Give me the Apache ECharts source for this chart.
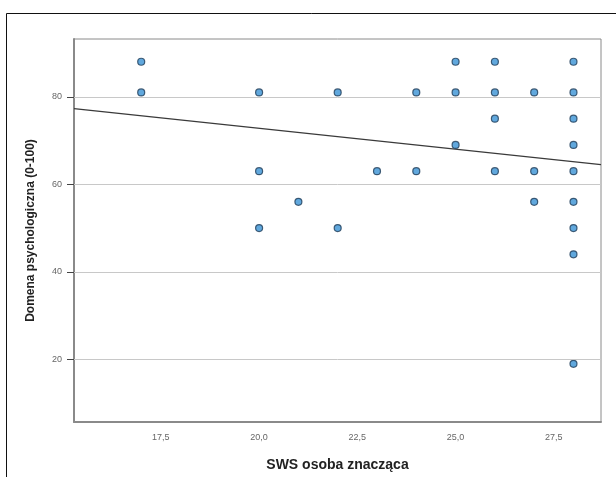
<!DOCTYPE html>
<html>
<head>
<meta charset="utf-8">
<script src="https://cdn.jsdelivr.net/npm/echarts@6/dist/echarts.min.js"></script>
<style>
html,body{margin:0;padding:0;background:#fff;}
#chart{width:616px;height:477px;}
</style>
</head>
<body>
<div id="chart"></div>
<script>
// SWS osoba znacząca (x) vs Domena psychologiczna (y)
var swsValues = [17, 17, 20, 20, 20, 21, 22, 22, 23, 24, 24, 25, 25, 25, 26, 26, 26, 26, 27, 27, 27, 28, 28, 28, 28, 28, 28, 28, 28, 28];
var domenaValues = [88, 81, 81, 63, 50, 56, 81, 50, 63, 81, 63, 88, 81, 69, 88, 81, 75, 63, 81, 63, 56, 88, 81, 75, 69, 63, 56, 50, 44, 19];
var fitX = [15.29, 28.7];
var fitY = [77.3, 64.5];
var xTicks = [17.5, 20, 22.5, 25, 27.5];
var yTicks = [20, 40, 60, 80];

var points = swsValues.map(function (v, i) { return [v, domenaValues[i]]; });
var fitLine = fitX.map(function (v, i) { return [v, fitY[i]]; });

var chart = echarts.init(document.getElementById('chart'), null, {renderer: 'canvas'});
chart.setOption({
  animation: false,
  backgroundColor: '#ffffff',
  textStyle: {fontFamily: 'Liberation Sans, Arial, sans-serif'},
  graphic: [{
    type: 'rect',
    shape: {x: 6.5, y: 13.5, width: 700, height: 600},
    style: {fill: 'none', stroke: '#111', lineWidth: 1},
    silent: true
  }],
  grid: {
    left: 74, right: 15, top: 39, bottom: 53,
    show: true, borderColor: '#8a8a8a', borderWidth: 1, backgroundColor: 'transparent'
  },
  xAxis: {
    type: 'value',
    min: 15.29, max: 28.7,
    name: 'SWS osoba znacząca',
    nameLocation: 'middle',
    nameGap: 36,
    nameTextStyle: {fontSize: 14, fontWeight: 'bold', color: '#222', fontFamily: 'Liberation Sans, Arial, sans-serif'},
    axisLine: {show: true, onZero: false, lineStyle: {color: '#8a8a8a', width: 2}},
    axisTick: {show: false},
    splitLine: {show: false},
    axisLabel: {
      customValues: xTicks,
      color: '#666', fontSize: 9, margin: 11,
      formatter: function (v) { return v.toFixed(1).replace('.', ','); }
    }
  },
  yAxis: {
    type: 'value',
    min: 5.7, max: 93.2,
    name: 'Domena psychologiczna (0-100)',
    nameLocation: 'middle',
    nameGap: 37,
    nameTextStyle: {fontSize: 12, fontWeight: 'bold', color: '#222', fontFamily: 'Liberation Sans, Arial, sans-serif'},
    axisLine: {show: true, onZero: false, lineStyle: {color: '#8a8a8a', width: 2}},
    axisTick: {show: true, customValues: yTicks, length: 7, lineStyle: {color: '#444', width: 1}},
    splitLine: {show: false},
    axisLabel: {
      customValues: yTicks,
      color: '#666', fontSize: 9, margin: 12
    }
  },
  series: [{
    type: 'line',
    data: fitLine,
    symbol: 'none',
    lineStyle: {color: '#3a3a3a', width: 1.2},
    silent: true,
    z: 3,
    markLine: {
      silent: true,
      symbol: 'none',
      label: {show: false},
      lineStyle: {color: '#c8c8c8', type: 'solid', width: 1},
      data: yTicks.map(function (t) { return {yAxis: t}; })
    }
  }, {
    type: 'scatter',
    data: points,
    symbol: 'circle',
    symbolSize: 7,
    itemStyle: {color: '#3a92d4', borderColor: '#1d3b57', borderWidth: 1.2},
    z: 4
  }]
});
</script>
</body>
</html>
